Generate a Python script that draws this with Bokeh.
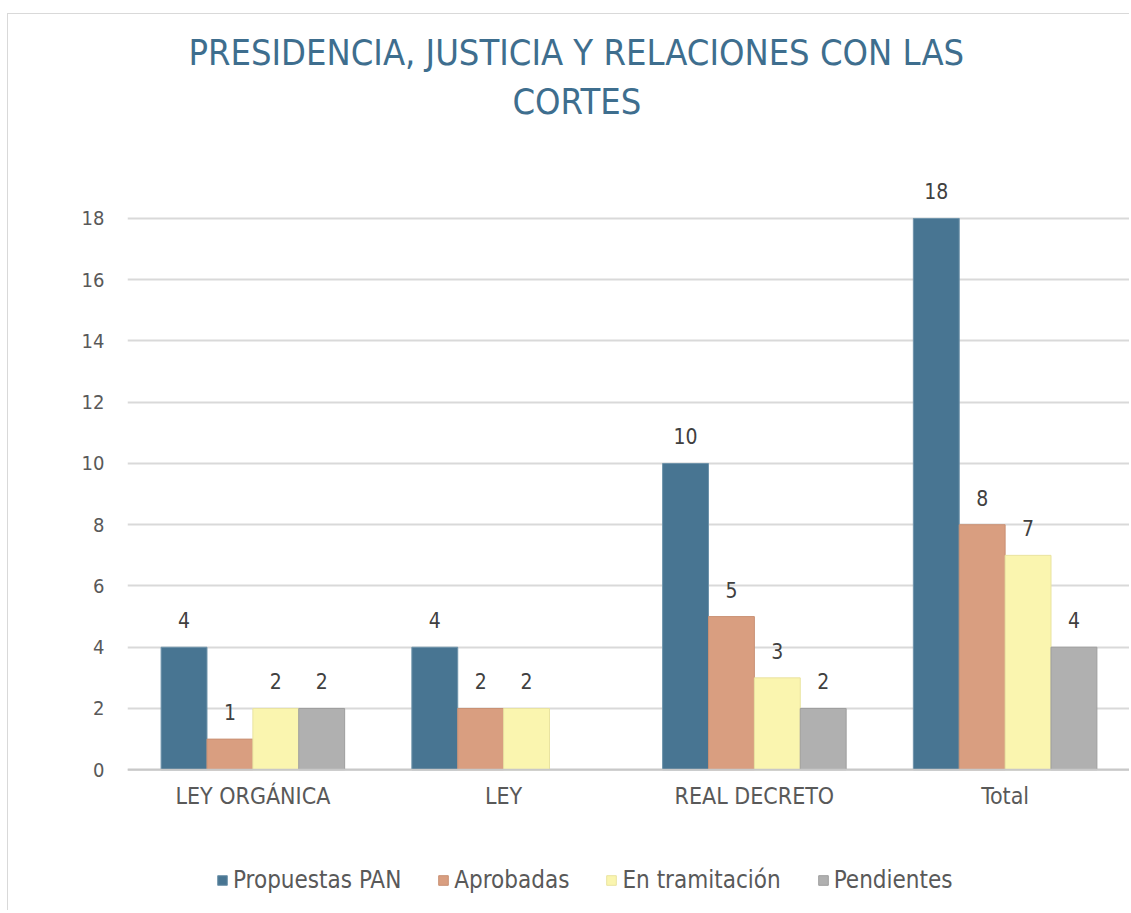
from bokeh.plotting import figure
from bokeh.models import (ColumnDataSource, FactorRange, Range1d, FixedTicker, Legend,
                          LegendItem, LabelSet, Title, Spacer, Span)
from bokeh.core.properties import value
from bokeh.layouts import column, row
from bokeh.transform import dodge
from bokeh.embed import file_html
from bokeh.resources import INLINE

# ---- data ----
categories = ["LEY ORGÁNICA", "LEY", "REAL DECRETO", "Total"]
series_names = ["Propuestas PAN", "Aprobadas", "En tramitación", "Pendientes"]
propuestas = [4, 4, 10, 18]
aprobadas = [1, 2, 5, 8]
tramitacion = [2, 2, 3, 7]
pendientes = [2, 0, 2, 4]
y_ticks = [0, 2, 4, 6, 8, 10, 12, 14, 16, 18]
title_line1 = "PRESIDENCIA, JUSTICIA Y RELACIONES CON LAS"
title_line2 = "CORTES"

series_values = [propuestas, aprobadas, tramitacion, pendientes]
fill_colors = ["#487592", "#D99E80", "#FAF5AF", "#B0B0B0"]
line_colors = ["#6E93AA", "#C99073", "#E9E3A0", "#9E9E9E"]

FONT = "'DejaVu Sans Condensed', 'DejaVu Sans', sans-serif"
BAR_W = 0.183

# y range extends below 0 so that category labels and legend live inside the frame
p = figure(x_range=FactorRange(factors=categories, range_padding=0),
           y_range=Range1d(-4.4, 21.1),
           width=1122, height=897, output_backend="svg", toolbar_location=None,
           min_border_left=119, min_border_right=0, min_border_top=109,
           min_border_bottom=7)
p.outline_line_color = None
p.background_fill_color = "white"
p.border_fill_color = "white"
p.styles = {"border-left": "1px solid #D9D9D9", "border-top": "1px solid #D9D9D9"}

# titles (line 2 closest to frame)
t2 = Title(text=title_line2, align="left", offset=385, standoff=4,
           text_font=FONT, text_font_size="36px", text_font_style="normal",
           text_color="#3E6E8E")
t1 = Title(text=title_line1, align="left", offset=61, standoff=8,
           text_font=FONT, text_font_size="36px", text_font_style="normal",
           text_color="#3E6E8E")
p.add_layout(t2, "above")
p.add_layout(t1, "above")

# gridlines
p.xgrid.grid_line_color = None
p.ygrid.grid_line_color = "#D9D9D9"
p.ygrid.grid_line_width = 2
p.add_layout(Span(location=0, dimension="width", line_color="#C8C8C8", line_width=2))

offsets = [-1.5 * BAR_W, -0.5 * BAR_W, 0.5 * BAR_W, 1.5 * BAR_W]
items = []
for name, vals, fc, lc, off in zip(series_names, series_values, fill_colors, line_colors, offsets):
    cats = [c for c, v in zip(categories, vals) if v > 0]
    vv = [v for v in vals if v > 0]
    src = ColumnDataSource(dict(cat=cats, val=vv, lab=[str(v) for v in vv]))
    r = p.vbar(x=dodge("cat", off, range=p.x_range), top="val", bottom=0, width=BAR_W,
               source=src, fill_color=fc, line_color=lc, line_width=1)
    labels = LabelSet(x=dodge("cat", off, range=p.x_range), y="val", text="lab",
                      source=src, text_align="center", text_baseline="alphabetic",
                      y_offset=19, text_font=value(FONT), text_font_size=value("21px"),
                      text_color=value("#404040"))
    p.add_layout(labels)
    items.append(LegendItem(label=name, renderers=[r]))

# category labels under the baseline
cat_src = ColumnDataSource(dict(cat=categories, base=[0] * len(categories)))
cat_labels = LabelSet(x="cat", y="base", text="cat", source=cat_src,
                      text_align="center", text_baseline="top", y_offset=-13,
                      text_font=value(FONT), text_font_size=value("23px"),
                      text_color=value("#595959"))
p.add_layout(cat_labels)
p.xaxis.visible = False

# y axis
p.yaxis.ticker = FixedTicker(ticks=y_ticks)
p.yaxis.axis_line_color = None
p.yaxis.major_tick_line_color = None
p.yaxis.minor_tick_line_color = None
p.yaxis.major_label_standoff = 17
p.yaxis.major_label_text_font = FONT
p.yaxis.major_label_text_font_size = "20px"
p.yaxis.major_label_text_color = "#595959"

legend = Legend(items=items, orientation="horizontal", location=(89, 10),
                glyph_width=12, glyph_height=12, label_standoff=5, spacing=36,
                label_text_font=FONT, label_text_font_size="24px",
                label_text_color="#595959", border_line_alpha=0,
                background_fill_alpha=0, padding=0, margin=0)
p.add_layout(legend, "center")

layout = row(Spacer(width=7), column(Spacer(height=13), p, spacing=0), spacing=0)
open("out.html", "w").write(file_html(layout, INLINE))
